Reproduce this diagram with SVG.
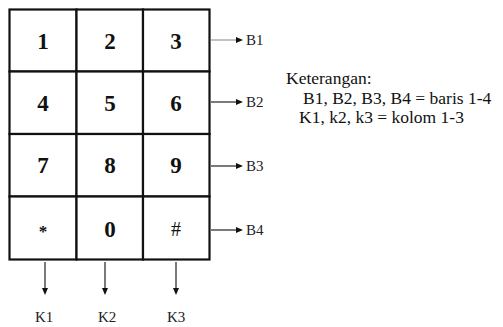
<svg xmlns="http://www.w3.org/2000/svg" width="503" height="327" viewBox="0 0 503 327">
  <style>
    .cell { fill: #ffffff; stroke: #111111; stroke-width: 2.2; }
    .wire { stroke: #222222; stroke-width: 1.2; }
    .head { fill: #111111; }
  </style>
  <rect width="503" height="327" fill="#ffffff"/>

  <!-- keypad cells -->
  <g id="k1"><rect class="cell" x="9.5" y="9.5" width="67" height="62"/></g>
  <g id="k2"><rect class="cell" x="76.5" y="9.5" width="66.5" height="62"/></g>
  <g id="k3"><rect class="cell" x="143" y="9.5" width="66.5" height="62"/></g>
  <g id="k4"><rect class="cell" x="9.5" y="71.5" width="67" height="62.5"/></g>
  <g id="k5"><rect class="cell" x="76.5" y="71.5" width="66.5" height="62.5"/></g>
  <g id="k6"><rect class="cell" x="143" y="71.5" width="66.5" height="62.5"/></g>
  <g id="k7"><rect class="cell" x="9.5" y="134" width="67" height="62.5"/></g>
  <g id="k8"><rect class="cell" x="76.5" y="134" width="66.5" height="62.5"/></g>
  <g id="k9"><rect class="cell" x="143" y="134" width="66.5" height="62.5"/></g>
  <g id="kstar"><rect class="cell" x="9.5" y="196.5" width="67" height="63"/></g>
  <g id="k0"><rect class="cell" x="76.5" y="196.5" width="66.5" height="63"/></g>
  <g id="khash"><rect class="cell" x="143" y="196.5" width="66.5" height="63"/></g>

  <!-- row and column outputs -->
  <g id="connectors">
    <line class="wire" x1="211" y1="40" x2="237" y2="40" style="stroke:#999999"/>
    <polygon class="head" points="236,37 243,40 236,43"/>
    <line class="wire" x1="211" y1="102" x2="237" y2="102"/>
    <polygon class="head" points="236,99 243,102 236,105"/>
    <line class="wire" x1="211" y1="166" x2="237" y2="166"/>
    <polygon class="head" points="236,163 243,166 236,169"/>
    <line class="wire" x1="211" y1="230" x2="237" y2="230"/>
    <polygon class="head" points="236,227 243,230 236,233"/>
    <line class="wire" x1="45" y1="262" x2="45" y2="289"/>
    <polygon class="head" points="42,288 45,295 48,288"/>
    <line class="wire" x1="105" y1="262" x2="105" y2="289"/>
    <polygon class="head" points="102,288 105,295 108,288"/>
    <line class="wire" x1="176" y1="262" x2="176" y2="289"/>
    <polygon class="head" points="173,288 176,295 179,288"/>
  </g>

  <!-- key captions -->
  <text x="43" y="49" font-size="23" font-weight="bold" text-anchor="middle" fill="#111111" font-family="Times New Roman, Liberation Serif, serif">1</text>
  <text x="110" y="49" font-size="23" font-weight="bold" text-anchor="middle" fill="#111111" font-family="Times New Roman, Liberation Serif, serif">2</text>
  <text x="176" y="49" font-size="23" font-weight="bold" text-anchor="middle" fill="#111111" font-family="Times New Roman, Liberation Serif, serif">3</text>
  <text x="43" y="111" font-size="23" font-weight="bold" text-anchor="middle" fill="#111111" font-family="Times New Roman, Liberation Serif, serif">4</text>
  <text x="110" y="111" font-size="23" font-weight="bold" text-anchor="middle" fill="#111111" font-family="Times New Roman, Liberation Serif, serif">5</text>
  <text x="176" y="111" font-size="23" font-weight="bold" text-anchor="middle" fill="#111111" font-family="Times New Roman, Liberation Serif, serif">6</text>
  <text x="43" y="173" font-size="23" font-weight="bold" text-anchor="middle" fill="#111111" font-family="Times New Roman, Liberation Serif, serif">7</text>
  <text x="110" y="173" font-size="23" font-weight="bold" text-anchor="middle" fill="#111111" font-family="Times New Roman, Liberation Serif, serif">8</text>
  <text x="176" y="173" font-size="23" font-weight="bold" text-anchor="middle" fill="#111111" font-family="Times New Roman, Liberation Serif, serif">9</text>
  <text x="43" y="237" font-size="17" font-weight="bold" text-anchor="middle" fill="#111111" font-family="Times New Roman, Liberation Serif, serif">*</text>
  <text x="110" y="237" font-size="23" font-weight="bold" text-anchor="middle" fill="#111111" font-family="Times New Roman, Liberation Serif, serif">0</text>
  <text x="176" y="236" font-size="20" text-anchor="middle" fill="#111111" font-family="Times New Roman, Liberation Serif, serif">#</text>

  <!-- output names -->
  <text x="246" y="45" font-size="15" fill="#222222" font-family="Times New Roman, Liberation Serif, serif">B1</text>
  <text x="246" y="107" font-size="15" fill="#222222" font-family="Times New Roman, Liberation Serif, serif">B2</text>
  <text x="246" y="171" font-size="15" fill="#222222" font-family="Times New Roman, Liberation Serif, serif">B3</text>
  <text x="246" y="235" font-size="15" fill="#222222" font-family="Times New Roman, Liberation Serif, serif">B4</text>
  <text x="35" y="322" font-size="15" fill="#222222" font-family="Times New Roman, Liberation Serif, serif">K1</text>
  <text x="98" y="322" font-size="15" fill="#222222" font-family="Times New Roman, Liberation Serif, serif">K2</text>
  <text x="167" y="322" font-size="15" fill="#222222" font-family="Times New Roman, Liberation Serif, serif">K3</text>

  <!-- legend -->
  <text x="286" y="84" font-size="17.5" fill="#111111" font-family="Times New Roman, Liberation Serif, serif">Keterangan:</text>
  <text x="303" y="104" font-size="17.5" fill="#111111" font-family="Times New Roman, Liberation Serif, serif">B1, B2, B3, B4 = baris 1-4</text>
  <text x="299" y="123" font-size="17.5" fill="#111111" font-family="Times New Roman, Liberation Serif, serif">K1, k2, k3 = kolom 1-3</text>
</svg>
